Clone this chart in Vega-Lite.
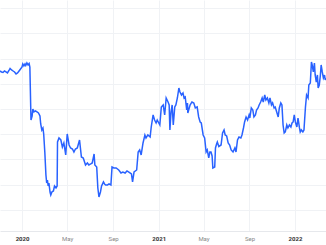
{
  "$schema": "https://vega.github.io/schema/vega-lite/v6.json",
  "width": 326,
  "height": 231,
  "autosize": {"type": "none"},
  "padding": {"top": 0, "left": 0, "right": 0, "bottom": 14},
  "config": {"view": {"stroke": null}},
  "data": {"values": [
    {"date": "2019-11-03", "value": 65.05},
    {"date": "2019-11-07", "value": 64.66},
    {"date": "2019-11-11", "value": 64.46},
    {"date": "2019-11-15", "value": 65.05},
    {"date": "2019-11-19", "value": 64.66},
    {"date": "2019-11-23", "value": 64.26},
    {"date": "2019-11-27", "value": 65.25},
    {"date": "2019-11-30", "value": 66.04},
    {"date": "2019-12-04", "value": 65.45},
    {"date": "2019-12-08", "value": 65.05},
    {"date": "2019-12-12", "value": 64.66},
    {"date": "2019-12-16", "value": 63.87},
    {"date": "2019-12-20", "value": 64.26},
    {"date": "2019-12-24", "value": 65.05},
    {"date": "2019-12-28", "value": 65.85},
    {"date": "2020-01-01", "value": 66.64},
    {"date": "2020-01-03", "value": 67.83},
    {"date": "2020-01-06", "value": 67.04},
    {"date": "2020-01-09", "value": 67.83},
    {"date": "2020-01-11", "value": 67.23},
    {"date": "2020-01-14", "value": 68.22},
    {"date": "2020-01-17", "value": 67.43},
    {"date": "2020-01-20", "value": 68.02},
    {"date": "2020-01-22", "value": 66.64},
    {"date": "2020-01-25", "value": 45.65},
    {"date": "2020-01-28", "value": 47.23},
    {"date": "2020-01-30", "value": 50.01},
    {"date": "2020-02-02", "value": 48.82},
    {"date": "2020-02-06", "value": 49.21},
    {"date": "2020-02-10", "value": 48.82},
    {"date": "2020-02-14", "value": 48.42},
    {"date": "2020-02-18", "value": 47.23},
    {"date": "2020-02-20", "value": 44.07},
    {"date": "2020-02-23", "value": 41.69},
    {"date": "2020-02-26", "value": 42.48},
    {"date": "2020-02-28", "value": 40.11},
    {"date": "2020-03-02", "value": 32.98},
    {"date": "2020-03-05", "value": 23.87},
    {"date": "2020-03-07", "value": 20.70},
    {"date": "2020-03-09", "value": 21.89},
    {"date": "2020-03-11", "value": 19.51},
    {"date": "2020-03-13", "value": 20.70},
    {"date": "2020-03-16", "value": 17.13},
    {"date": "2020-03-18", "value": 15.95},
    {"date": "2020-03-21", "value": 17.13},
    {"date": "2020-03-25", "value": 17.53},
    {"date": "2020-03-28", "value": 19.51},
    {"date": "2020-04-01", "value": 18.72},
    {"date": "2020-04-04", "value": 19.51},
    {"date": "2020-04-05", "value": 36.94},
    {"date": "2020-04-09", "value": 38.52},
    {"date": "2020-04-14", "value": 37.73},
    {"date": "2020-04-18", "value": 34.96},
    {"date": "2020-04-22", "value": 36.54},
    {"date": "2020-04-27", "value": 31.79},
    {"date": "2020-05-01", "value": 40.11},
    {"date": "2020-05-06", "value": 35.75},
    {"date": "2020-05-10", "value": 34.56},
    {"date": "2020-05-15", "value": 34.17},
    {"date": "2020-05-19", "value": 32.98},
    {"date": "2020-05-23", "value": 34.17},
    {"date": "2020-05-28", "value": 34.56},
    {"date": "2020-06-03", "value": 37.73},
    {"date": "2020-06-08", "value": 31.00},
    {"date": "2020-06-13", "value": 30.60},
    {"date": "2020-06-19", "value": 27.83},
    {"date": "2020-06-24", "value": 28.62},
    {"date": "2020-06-28", "value": 27.83},
    {"date": "2020-07-03", "value": 28.23},
    {"date": "2020-07-07", "value": 28.62},
    {"date": "2020-07-12", "value": 32.19},
    {"date": "2020-07-14", "value": 27.83},
    {"date": "2020-07-19", "value": 27.04},
    {"date": "2020-07-22", "value": 18.72},
    {"date": "2020-07-25", "value": 15.16},
    {"date": "2020-07-29", "value": 17.13},
    {"date": "2020-08-01", "value": 19.51},
    {"date": "2020-08-06", "value": 21.10},
    {"date": "2020-08-09", "value": 20.31},
    {"date": "2020-08-12", "value": 19.91},
    {"date": "2020-08-17", "value": 19.91},
    {"date": "2020-08-21", "value": 20.31},
    {"date": "2020-08-26", "value": 19.91},
    {"date": "2020-08-29", "value": 27.04},
    {"date": "2020-09-03", "value": 26.64},
    {"date": "2020-09-09", "value": 26.64},
    {"date": "2020-09-16", "value": 25.85},
    {"date": "2020-09-22", "value": 24.66},
    {"date": "2020-09-27", "value": 25.06},
    {"date": "2020-10-03", "value": 24.66},
    {"date": "2020-10-08", "value": 25.45},
    {"date": "2020-10-12", "value": 25.06},
    {"date": "2020-10-16", "value": 24.66},
    {"date": "2020-10-20", "value": 24.27},
    {"date": "2020-10-23", "value": 21.10},
    {"date": "2020-10-27", "value": 25.06},
    {"date": "2020-11-03", "value": 25.85},
    {"date": "2020-11-07", "value": 32.98},
    {"date": "2020-11-11", "value": 33.77},
    {"date": "2020-11-15", "value": 31.79},
    {"date": "2020-11-20", "value": 36.54},
    {"date": "2020-11-25", "value": 39.71},
    {"date": "2020-11-28", "value": 38.52},
    {"date": "2020-12-03", "value": 39.71},
    {"date": "2020-12-09", "value": 38.92},
    {"date": "2020-12-12", "value": 42.88},
    {"date": "2020-12-17", "value": 47.63},
    {"date": "2020-12-21", "value": 45.65},
    {"date": "2020-12-25", "value": 44.46},
    {"date": "2020-12-28", "value": 45.65},
    {"date": "2021-01-04", "value": 43.67},
    {"date": "2021-01-08", "value": 50.80},
    {"date": "2021-01-13", "value": 51.59},
    {"date": "2021-01-17", "value": 47.63},
    {"date": "2021-01-21", "value": 54.36},
    {"date": "2021-01-26", "value": 52.78},
    {"date": "2021-01-29", "value": 51.59},
    {"date": "2021-01-31", "value": 41.69},
    {"date": "2021-02-03", "value": 48.82},
    {"date": "2021-02-06", "value": 51.59},
    {"date": "2021-02-09", "value": 43.67},
    {"date": "2021-02-13", "value": 50.80},
    {"date": "2021-02-16", "value": 51.59},
    {"date": "2021-02-20", "value": 54.36},
    {"date": "2021-02-24", "value": 58.32},
    {"date": "2021-02-27", "value": 56.74},
    {"date": "2021-03-03", "value": 55.55},
    {"date": "2021-03-07", "value": 56.34},
    {"date": "2021-03-10", "value": 54.36},
    {"date": "2021-03-13", "value": 54.76},
    {"date": "2021-03-17", "value": 49.61},
    {"date": "2021-03-19", "value": 52.38},
    {"date": "2021-03-20", "value": 48.42},
    {"date": "2021-03-26", "value": 51.59},
    {"date": "2021-03-31", "value": 52.78},
    {"date": "2021-04-05", "value": 52.38},
    {"date": "2021-04-09", "value": 50.40},
    {"date": "2021-04-14", "value": 50.80},
    {"date": "2021-04-18", "value": 46.84},
    {"date": "2021-04-22", "value": 44.86},
    {"date": "2021-04-25", "value": 44.46},
    {"date": "2021-04-30", "value": 39.71},
    {"date": "2021-05-04", "value": 38.52},
    {"date": "2021-05-08", "value": 32.98},
    {"date": "2021-05-11", "value": 33.77},
    {"date": "2021-05-15", "value": 30.60},
    {"date": "2021-05-18", "value": 32.98},
    {"date": "2021-05-21", "value": 32.98},
    {"date": "2021-05-24", "value": 31.40},
    {"date": "2021-05-26", "value": 26.64},
    {"date": "2021-05-31", "value": 27.04},
    {"date": "2021-06-02", "value": 34.56},
    {"date": "2021-06-05", "value": 36.14},
    {"date": "2021-06-07", "value": 36.94},
    {"date": "2021-06-11", "value": 35.16},
    {"date": "2021-06-17", "value": 35.75},
    {"date": "2021-06-21", "value": 40.50},
    {"date": "2021-06-25", "value": 41.69},
    {"date": "2021-06-28", "value": 39.71},
    {"date": "2021-07-02", "value": 39.31},
    {"date": "2021-07-06", "value": 36.54},
    {"date": "2021-07-10", "value": 35.75},
    {"date": "2021-07-14", "value": 33.77},
    {"date": "2021-07-19", "value": 32.98},
    {"date": "2021-07-24", "value": 34.56},
    {"date": "2021-07-27", "value": 32.98},
    {"date": "2021-07-31", "value": 37.73},
    {"date": "2021-08-04", "value": 38.92},
    {"date": "2021-08-09", "value": 38.52},
    {"date": "2021-08-12", "value": 39.71},
    {"date": "2021-08-16", "value": 42.48},
    {"date": "2021-08-19", "value": 44.86},
    {"date": "2021-08-23", "value": 46.84},
    {"date": "2021-08-27", "value": 45.65},
    {"date": "2021-08-31", "value": 47.63},
    {"date": "2021-09-02", "value": 46.44},
    {"date": "2021-09-06", "value": 50.40},
    {"date": "2021-09-10", "value": 49.61},
    {"date": "2021-09-13", "value": 46.84},
    {"date": "2021-09-17", "value": 47.63},
    {"date": "2021-09-20", "value": 49.61},
    {"date": "2021-09-24", "value": 50.40},
    {"date": "2021-09-27", "value": 51.59},
    {"date": "2021-10-01", "value": 52.78},
    {"date": "2021-10-05", "value": 54.36},
    {"date": "2021-10-08", "value": 52.78},
    {"date": "2021-10-12", "value": 55.55},
    {"date": "2021-10-15", "value": 53.57},
    {"date": "2021-10-19", "value": 54.36},
    {"date": "2021-10-23", "value": 52.38},
    {"date": "2021-10-26", "value": 54.36},
    {"date": "2021-10-30", "value": 51.59},
    {"date": "2021-11-02", "value": 52.38},
    {"date": "2021-11-06", "value": 50.40},
    {"date": "2021-11-09", "value": 50.80},
    {"date": "2021-11-13", "value": 48.82},
    {"date": "2021-11-17", "value": 46.84},
    {"date": "2021-11-20", "value": 50.40},
    {"date": "2021-11-24", "value": 52.38},
    {"date": "2021-11-27", "value": 51.59},
    {"date": "2021-11-30", "value": 43.67},
    {"date": "2021-12-03", "value": 40.50},
    {"date": "2021-12-06", "value": 40.90},
    {"date": "2021-12-10", "value": 43.67},
    {"date": "2021-12-13", "value": 42.48},
    {"date": "2021-12-17", "value": 43.67},
    {"date": "2021-12-21", "value": 42.88},
    {"date": "2021-12-24", "value": 44.46},
    {"date": "2021-12-27", "value": 44.86},
    {"date": "2021-12-30", "value": 47.63},
    {"date": "2022-01-02", "value": 44.86},
    {"date": "2022-01-06", "value": 42.88},
    {"date": "2022-01-09", "value": 46.44},
    {"date": "2022-01-13", "value": 42.48},
    {"date": "2022-01-15", "value": 40.90},
    {"date": "2022-01-18", "value": 41.69},
    {"date": "2022-01-22", "value": 40.90},
    {"date": "2022-01-25", "value": 41.69},
    {"date": "2022-01-29", "value": 50.80},
    {"date": "2022-02-01", "value": 55.55},
    {"date": "2022-02-05", "value": 54.36},
    {"date": "2022-02-07", "value": 59.51},
    {"date": "2022-02-11", "value": 60.30},
    {"date": "2022-02-14", "value": 68.62},
    {"date": "2022-02-16", "value": 67.43},
    {"date": "2022-02-19", "value": 64.66},
    {"date": "2022-02-22", "value": 68.22},
    {"date": "2022-02-24", "value": 63.47},
    {"date": "2022-02-27", "value": 60.69},
    {"date": "2022-03-02", "value": 63.47},
    {"date": "2022-03-04", "value": 58.32},
    {"date": "2022-03-07", "value": 59.51},
    {"date": "2022-03-10", "value": 63.47},
    {"date": "2022-03-12", "value": 67.43},
    {"date": "2022-03-15", "value": 64.66},
    {"date": "2022-03-18", "value": 62.28},
    {"date": "2022-03-21", "value": 63.47},
    {"date": "2022-03-23", "value": 61.48},
    {"date": "2022-03-25", "value": 62.28}
  ]},
  "mark": {"type": "line", "color": "#2962FF", "strokeWidth": 1.5, "clip": true},
  "encoding": {
    "x": {
      "field": "date",
      "type": "temporal",
      "scale": {
        "type": "utc",
        "domain": [
          {"year": 2019, "month": 11, "date": 3, "utc": true},
          {"year": 2022, "month": 3, "date": 25, "utc": true}
        ]
      },
      "axis": {
        "title": null,
        "values": [
          {"year": 2020, "month": 1, "date": 1, "utc": true},
          {"year": 2020, "month": 5, "date": 1, "utc": true},
          {"year": 2020, "month": 9, "date": 1, "utc": true},
          {"year": 2021, "month": 1, "date": 1, "utc": true},
          {"year": 2021, "month": 5, "date": 1, "utc": true},
          {"year": 2021, "month": 9, "date": 1, "utc": true},
          {"year": 2022, "month": 1, "date": 1, "utc": true}
        ],
        "labelExpr": "utcmonth(datum.value) == 0 ? utcFormat(datum.value, '%Y') : utcFormat(datum.value, '%b')",
        "labelFontWeight": {"condition": {"test": "utcmonth(datum.value) == 0", "value": "bold"}, "value": "normal"},
        "labelColor": {"condition": {"test": "utcmonth(datum.value) == 0", "value": "#333333"}, "value": "#888888"},
        "labelFont": "Roboto",
        "labelFontSize": 6,
        "labelPadding": 4.5,
        "labelFlush": false,
        "labelOverlap": false,
        "ticks": false,
        "domain": true,
        "domainColor": "#e6e8ec",
        "grid": true,
        "gridColor": "#f0f2f5",
        "gridWidth": 1
      }
    },
    "y": {
      "field": "value",
      "type": "quantitative",
      "scale": {"domain": [1.68, 93.17], "nice": false, "zero": false},
      "axis": {
        "title": null,
        "values": [10, 20, 30, 40, 50, 60, 70, 80, 90],
        "labels": false,
        "ticks": false,
        "domain": false,
        "grid": true,
        "gridColor": "#f0f2f5",
        "gridWidth": 1
      }
    }
  }
}
